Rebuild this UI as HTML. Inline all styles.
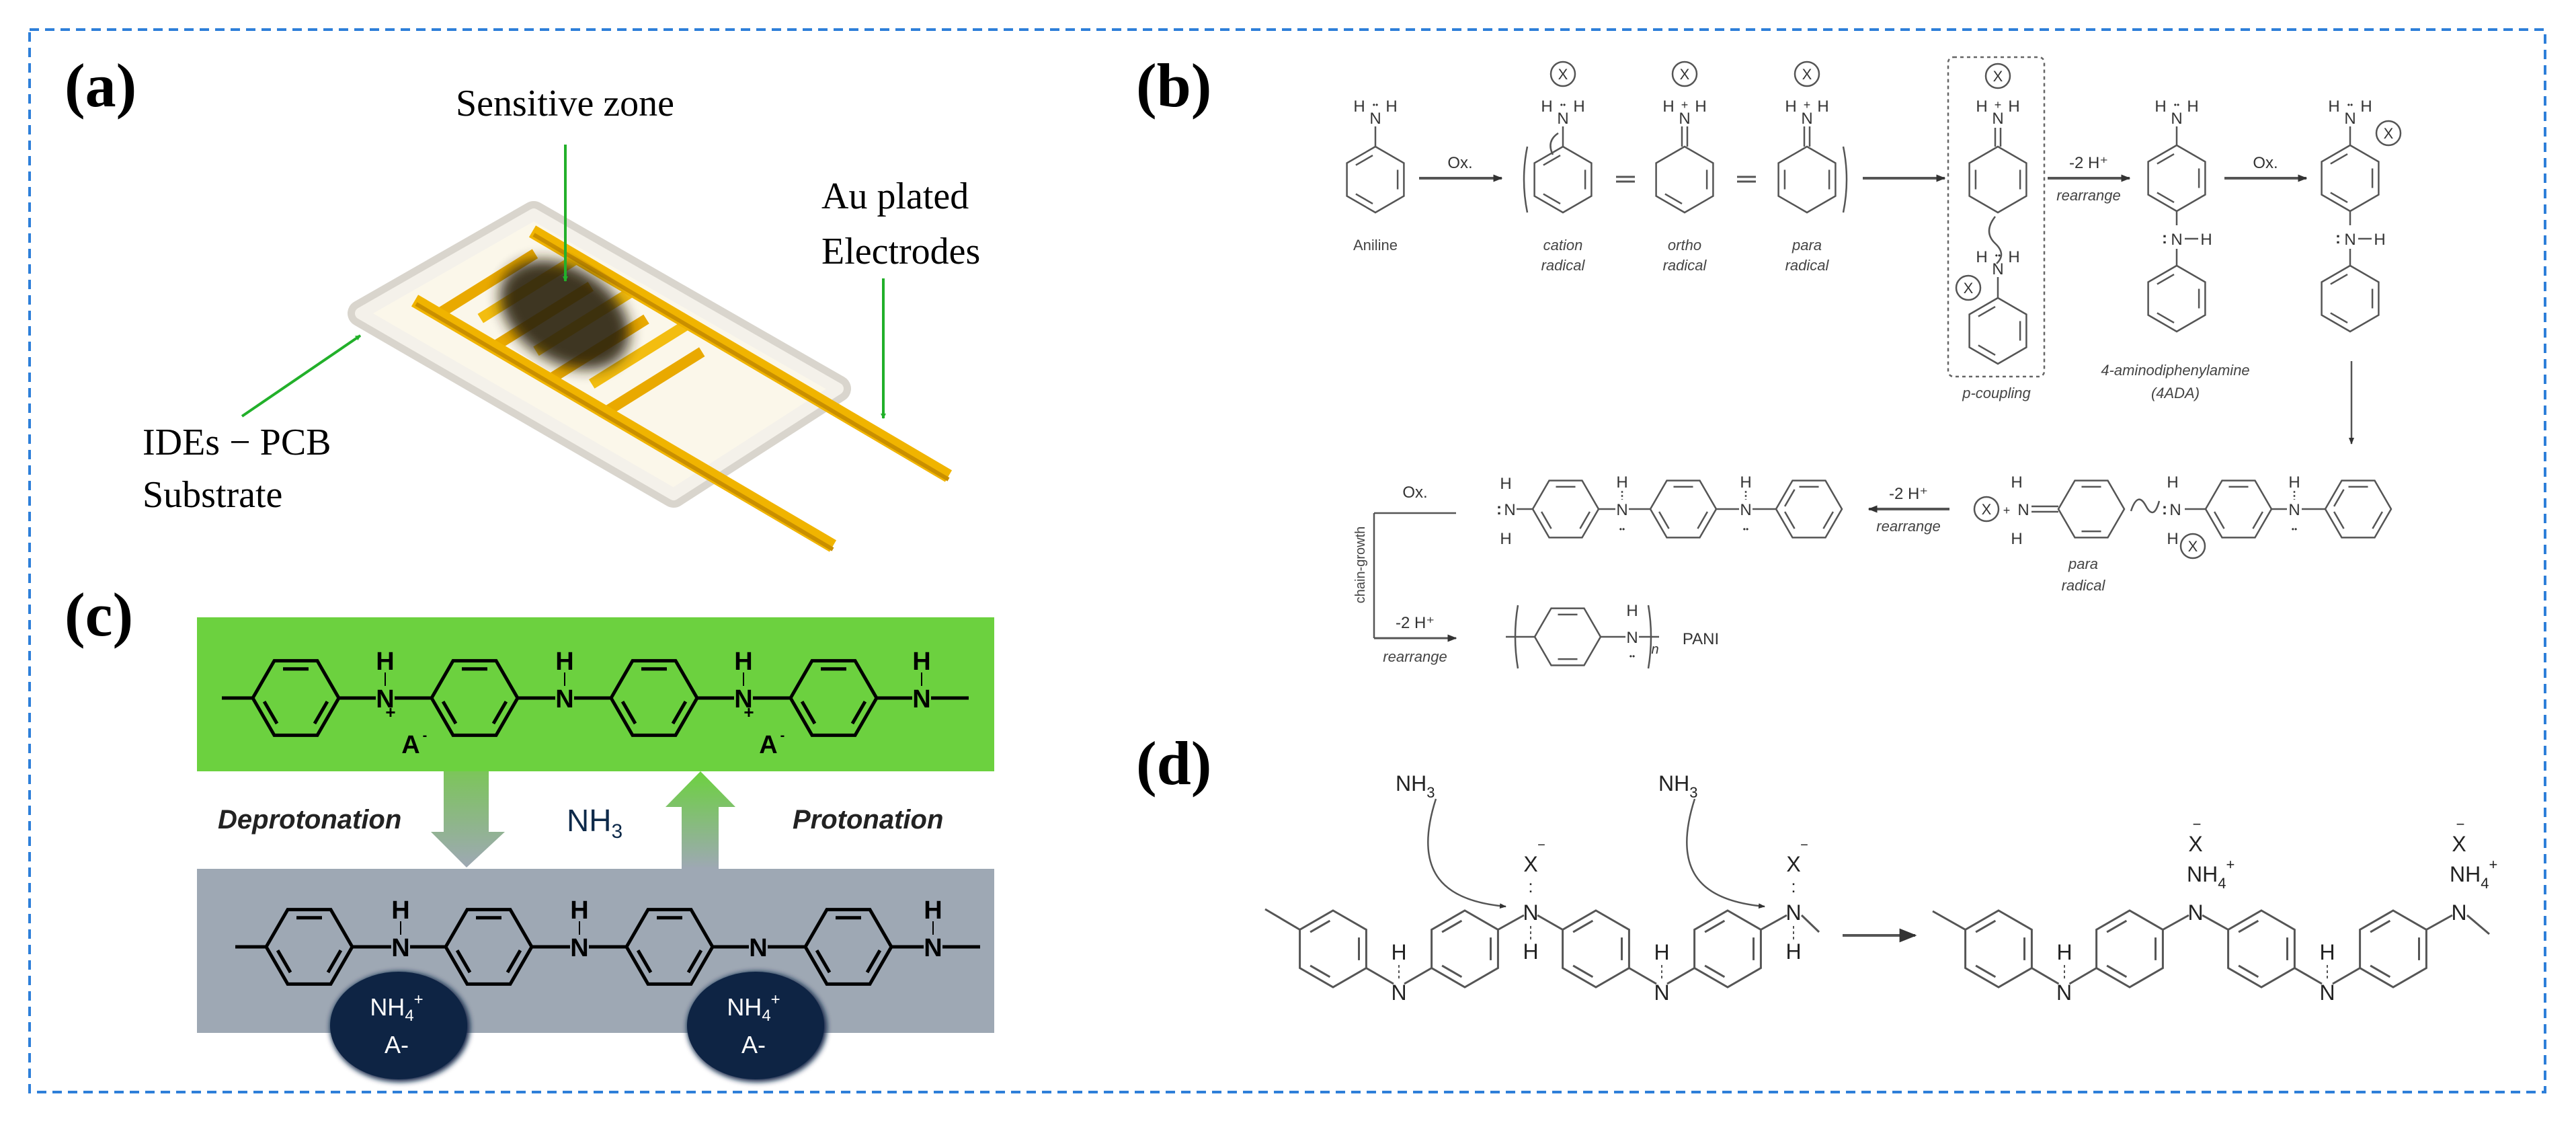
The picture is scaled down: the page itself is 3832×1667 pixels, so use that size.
<!DOCTYPE html>
<html><head><meta charset="utf-8">
<style>
html,body{margin:0;padding:0;background:#fff;}
svg{display:block;}
text{font-family:"Liberation Sans",sans-serif;}
.serif{font-family:"Liberation Serif",serif;}
</style></head>
<body>
<svg id="s" xmlns="http://www.w3.org/2000/svg" width="3832" height="1667" viewBox="0 0 3832 1667">
<defs>
<marker id="ag" markerWidth="8" markerHeight="8" refX="7" refY="4" orient="auto" markerUnits="userSpaceOnUse" viewBox="0 0 8 8"><path d="M0,0 L8,4 L0,8 z" fill="#22b02a"/></marker>
<marker id="ab" viewBox="0 0 10 10" refX="9" refY="5" markerWidth="14" markerHeight="14" orient="auto" markerUnits="userSpaceOnUse"><path d="M0,1 L10,5 L0,9 z" fill="#333"/></marker>
<marker id="ad" viewBox="0 0 10 10" refX="9" refY="5" markerWidth="26" markerHeight="26" orient="auto" markerUnits="userSpaceOnUse"><path d="M0,1 L10,5 L0,9 z" fill="#333"/></marker>
<marker id="ac" viewBox="0 0 10 10" refX="9" refY="5" markerWidth="10" markerHeight="10" orient="auto" markerUnits="userSpaceOnUse"><path d="M0,1 L10,5 L0,9 z" fill="#333"/></marker>
<linearGradient id="gd" x1="0" y1="0" x2="0" y2="1"><stop offset="0" stop-color="#7cc55a"/><stop offset="1" stop-color="#9ea8b4"/></linearGradient>
<linearGradient id="gu" x1="0" y1="1" x2="0" y2="0"><stop offset="0" stop-color="#9ea8b4"/><stop offset="1" stop-color="#6cd13f"/></linearGradient>
<filter id="bl"><feGaussianBlur stdDeviation="10"/></filter>
<filter id="sh"><feGaussianBlur stdDeviation="4"/></filter>
</defs>

<rect x="44" y="44" width="3742" height="1580" fill="none" stroke="#2e7fd9" stroke-width="4" stroke-dasharray="14,9"/>

<!-- ============ (a) ============ -->
<text x="96" y="158" class="serif" font-size="92" font-weight="bold">(a)</text>
<text x="678" y="172" class="serif" font-size="56">Sensitive zone</text>
<text x="1222" y="310" class="serif" font-size="56">Au plated</text>
<text x="1222" y="392" class="serif" font-size="56">Electrodes</text>
<text x="212" y="676" class="serif" font-size="56">IDEs − PCB</text>
<text x="212" y="754" class="serif" font-size="56">Substrate</text>

<g id="device">
 <path d="M794,319 L1246,578 L1002,735 L537,466 Z" fill="#e8e4dc" stroke="#d9d5cd" stroke-width="40" stroke-linejoin="round"/>
 <path d="M794,319 L1246,578 L1002,735 L537,466 Z" fill="#fbf7ea" stroke="#f4f1ea" stroke-width="18" stroke-linejoin="round"/>
</g>
<g id="gold" stroke="#f0b400" stroke-linecap="butt"></g>
<ellipse cx="840" cy="468" rx="105" ry="70" transform="rotate(32 840 468)" fill="#2b2310" opacity="0.9" filter="url(#bl)"/>

<g stroke="#22b02a" stroke-width="4" fill="none">
 <line x1="841" y1="215" x2="841" y2="418" marker-end="url(#ag)"/>
 <line x1="1314" y1="414" x2="1314" y2="622" marker-end="url(#ag)"/>
 <line x1="360" y1="619" x2="536" y2="499" marker-end="url(#ag)"/>
</g>

<!-- ============ (b) ============ -->
<text x="1690" y="158" class="serif" font-size="92" font-weight="bold">(b)</text>
<g id="gb" stroke="#555" stroke-width="2.5" fill="none"></g>
<g id="tb" fill="#333" font-size="24"></g>
<rect x="2898" y="85" width="143" height="475" rx="8" fill="none" stroke="#666" stroke-width="2.5" stroke-dasharray="5,5"/>
<g fill="#444" font-size="22" font-style="italic" text-anchor="middle">
 <text x="2046" y="372" font-style="normal">Aniline</text>
 <text x="2325" y="372">cation</text><text x="2325" y="402">radical</text>
 <text x="2506" y="372">ortho</text><text x="2506" y="402">radical</text>
 <text x="2688" y="372">para</text><text x="2688" y="402">radical</text>
 <text x="2970" y="592">p-coupling</text>
 <text x="3236" y="558">4-aminodiphenylamine</text><text x="3236" y="592">(4ADA)</text>
 <text x="3099" y="846">para</text><text x="3099" y="878">radical</text>
 <text x="3107" y="298">rearrange</text>
 <text x="2839" y="790">rearrange</text>
 <text x="2105" y="984">rearrange</text>
</g>
<g fill="#333" font-size="24" text-anchor="middle">
 <text x="2172" y="250">Ox.</text>
 <text x="3370" y="250">Ox.</text>
 <text x="3107" y="250">-2 H⁺</text>
 <text x="2839" y="742">-2 H⁺</text>
 <text x="2105" y="740">Ox.</text>
 <text x="2105" y="934">-2 H⁺</text>
 <text x="2530" y="958">PANI</text>
 <text x="2462" y="972" font-size="20" font-style="italic">n</text>
</g>
<text transform="translate(2030,840) rotate(-90)" font-size="20" fill="#444" text-anchor="middle">chain-growth</text>

<!-- ============ (c) ============ -->
<text x="96" y="945" class="serif" font-size="92" font-weight="bold">(c)</text>
<rect x="293" y="918" width="1186" height="229" fill="#6cd13f"/>
<rect x="293" y="1292" width="1186" height="244" fill="#9ea8b4"/>
<path d="M660,1147 L727,1147 L727,1237 L751,1237 L694,1290 L641,1237 L660,1237 Z" fill="url(#gd)"/>
<path d="M1014,1292 L1069,1292 L1069,1200 L1094,1200 L1042,1147 L990,1200 L1014,1200 Z" fill="url(#gu)"/>
<text x="324" y="1232" font-size="40" font-weight="bold" font-style="italic" fill="#222">Deprotonation</text>
<text x="1179" y="1232" font-size="40" font-weight="bold" font-style="italic" fill="#222">Protonation</text>
<text x="843" y="1236" font-size="46" fill="#0e2a4a">NH<tspan font-size="30" dy="10">3</tspan></text>
<g id="gc" stroke="#000" stroke-width="5" fill="none"></g>
<g id="tc" fill="#000" font-size="38" font-weight="bold" text-anchor="middle"></g>
<ellipse cx="595" cy="1527" rx="104" ry="82" fill="#0e2444" filter="url(#sh)"/>
<ellipse cx="593" cy="1525" rx="102" ry="80" fill="#0e2444"/>
<ellipse cx="1126" cy="1527" rx="104" ry="82" fill="#0e2444" filter="url(#sh)"/>
<ellipse cx="1124" cy="1525" rx="102" ry="80" fill="#0e2444"/>
<g fill="#fff" font-size="36" text-anchor="middle">
 <text x="590" y="1510">NH<tspan font-size="24" dy="8">4</tspan><tspan font-size="24" dy="-24">+</tspan></text>
 <text x="590" y="1566">A-</text>
 <text x="1121" y="1510">NH<tspan font-size="24" dy="8">4</tspan><tspan font-size="24" dy="-24">+</tspan></text>
 <text x="1121" y="1566">A-</text>
</g>

<!-- ============ (d) ============ -->
<text x="1690" y="1166" class="serif" font-size="92" font-weight="bold">(d)</text>
<g id="gd2" stroke="#555" stroke-width="3" fill="none"></g>
<g id="td" fill="#222" font-size="32" text-anchor="middle"></g>
<g fill="#222" font-size="32">
 <text x="2076" y="1176">NH<tspan font-size="22" dy="10">3</tspan></text>
 <text x="2467" y="1176">NH<tspan font-size="22" dy="10">3</tspan></text>
 <text x="3253" y="1311">NH<tspan font-size="22" dy="10">4</tspan><tspan font-size="22" dy="-28">+</tspan></text>
 <text x="3644" y="1311">NH<tspan font-size="22" dy="10">4</tspan><tspan font-size="22" dy="-28">+</tspan></text>
</g>
</svg>

<script>
var NS='http://www.w3.org/2000/svg';
function E(p,tag,a,txt){var e=document.createElementNS(NS,tag);for(var k in a)e.setAttribute(k,a[k]);if(txt!==undefined)e.textContent=txt;document.getElementById(p).appendChild(e);return e;}
function L(p,x1,y1,x2,y2,extra){var a={x1:x1,y1:y1,x2:x2,y2:y2};for(var k in extra)a[k]=extra[k];return E(p,'line',a);}
function T(p,x,y,s,extra){var a={x:x,y:y};for(var k in extra)a[k]=extra[k];return E(p,'text',a,s);}
function hex(p,cx,cy,r,pointy,dbl){
 var v=[];for(var i=0;i<6;i++){var an=(pointy?-90:0)+60*i;an=an*Math.PI/180;v.push([cx+r*Math.cos(an),cy+r*Math.sin(an)]);}
 E(p,'polygon',{points:v.map(function(q){return q[0].toFixed(1)+','+q[1].toFixed(1)}).join(' ')});
 (dbl||[]).forEach(function(i){var a=v[i],b=v[(i+1)%6];var f=0.78;
  var a2=[cx+(a[0]-cx)*f,cy+(a[1]-cy)*f],b2=[cx+(b[0]-cx)*f,cy+(b[1]-cy)*f];
  var t=0.12;var s=[a2[0]+(b2[0]-a2[0])*t,a2[1]+(b2[1]-a2[1])*t],e=[b2[0]+(a2[0]-b2[0])*t,b2[1]+(a2[1]-b2[1])*t];
  L(p,s[0],s[1],e[0],e[1]);});
 return v;
}
(function(){
 var g='gold';
 function bar(x1,y1,x2,y2,w,c){L(g,x1,y1,x2,y2,{'stroke-width':w,stroke:c||'#f0b400'});}
 var d=[0.862,0.507], n=[0.85,-0.53];
 for(var k=0;k<7;k++){
  var s=40+k*48;
  var x=617+d[0]*s,y=447+d[1]*s;
  if(k%2==0){bar(x,y,x+n[0]*170,y+n[1]*170,16,'#e9a900');}
  else{var x2=792+d[0]*(s-10),y2=344+d[1]*(s-10);bar(x2,y2,x2-n[0]*170,y2-n[1]*170,16,'#f3bd10');}
 }
 bar(617,447,1239,812,20,'#f0b400');
 bar(792,344,1411,708,20,'#f0b400');
 bar(619,452,1239,817,6,'#c98f00');
 bar(794,349,1411,713,6,'#c98f00');
})();
(function(){
 var g='gb',t='tb';
 function nh2(x,y,plus,dots){
  T(t,x,y,'N',{'text-anchor':'middle'});
  T(t,x-24,y-18,'H',{'text-anchor':'middle'});T(t,x+24,y-18,'H',{'text-anchor':'middle'});
  if(plus)T(t,x,y-22,'+',{'text-anchor':'middle','font-size':18});
  if(dots)T(t,x,y-24,'••',{'text-anchor':'middle','font-size':12});
 }
 function xc(x,y){E(g,'circle',{cx:x,cy:y,r:18});T(t,x,y+8,'X',{'text-anchor':'middle','font-size':22});}
 var R=49;
 hex(g,2046,267,R,true,[1,3,5]);L(g,2046,218,2046,188);nh2(2046,184,false,true);
 L(g,2111,265,2234,265,{'marker-end':'url(#ab)','stroke-width':4});
 E(g,'path',{d:'M2272,218 Q2262,267 2272,316'});E(g,'path',{d:'M2742,218 Q2752,267 2742,316'});
 hex(g,2325,267,R,true,[1,3,5]);L(g,2325,218,2325,188);nh2(2325,184,false,true);xc(2325,110);
 E(g,'path',{d:'M2310,230 Q2300,210 2318,198',stroke:'#555'});
 hex(g,2506,267,R,true,[1,3]);L(g,2502,218,2502,188);L(g,2510,218,2510,188);nh2(2506,184,true,false);xc(2506,110);
 hex(g,2688,267,R,true,[1,4]);L(g,2684,218,2684,188);L(g,2692,218,2692,188);nh2(2688,184,true,false);xc(2688,110);
 [2418,2598].forEach(function(x){L(g,x-14,263,x+14,263,{'stroke-width':3});L(g,x-14,270,x+14,270,{'stroke-width':3});});
 L(g,2771,265,2893,265,{'marker-end':'url(#ab)','stroke-width':4});
 hex(g,2972,267,R,true,[1,4]);L(g,2968,218,2968,190);L(g,2976,218,2976,190);nh2(2972,184,true,false);xc(2972,113);
 E(g,'path',{d:'M2968,322 Q2950,345 2968,362 Q2985,378 2970,392'});
 hex(g,2972,492,R,true,[1,3,5]);L(g,2972,443,2972,412);nh2(2972,408,false,true);xc(2928,428);
 L(g,3046,265,3168,265,{'marker-end':'url(#ab)','stroke-width':4});
 function ada(x){hex(g,x,265,R,true,[1,3,5]);L(g,x,216,x,188);nh2(x,184,false,true);
  L(g,x,314,x,335);T(t,x,364,'N',{'text-anchor':'middle'});T(t,x-18,362,':',{'text-anchor':'middle','font-weight':'bold'});
  L(g,x+12,355,x+32,355);T(t,x+44,364,'H',{'text-anchor':'middle'});L(g,x,370,x,396);hex(g,x,444,R,true,[1,3,5]);}
 ada(3238);ada(3496);xc(3553,198);
 L(g,3309,265,3431,265,{'marker-end':'url(#ab)','stroke-width':4});
 L(g,3498,537,3498,660,{'marker-end':'url(#ac)'});
 var Y=757;
 function nmid(x,ht){T(t,x,Y+9,'N',{'text-anchor':'middle'});if(ht){T(t,x,Y-32,'H',{'text-anchor':'middle'});L(g,x,Y-27,x,Y-14,{'stroke-dasharray':'3,3'});T(t,x,Y+34,'••',{'text-anchor':'middle','font-size':12});}}
 hex(g,2329,Y,R,false,[4,0,2]);hex(g,2504,Y,R,false,[4,0,2]);hex(g,2691,Y,R,false,[4,3,0,2]);
 L(g,2378,Y,2403,Y);L(g,2423,Y,2455,Y);L(g,2553,Y,2587,Y);L(g,2607,Y,2642,Y);L(g,2256,Y,2280,Y);
 nmid(2413,true);nmid(2597,true);
 T(t,2246,Y+9,'N',{'text-anchor':'middle'});T(t,2230,Y+8,':',{'text-anchor':'middle','font-weight':'bold'});
 T(t,2240,Y-30,'H',{'text-anchor':'middle'});T(t,2240,Y+52,'H',{'text-anchor':'middle'});
 L(g,2900,Y,2780,Y,{'marker-end':'url(#ab)','stroke-width':4});
 xc(2955,Y);T(t,2985,Y+8,'+',{'text-anchor':'middle','font-size':18});T(t,3010,Y+9,'N',{'text-anchor':'middle'});
 T(t,3000,Y-32,'H',{'text-anchor':'middle'});T(t,3000,Y+52,'H',{'text-anchor':'middle'});
 L(g,3022,Y-4,3062,Y-4);L(g,3022,Y+4,3062,Y+4);
 hex(g,3111,Y,R,false,[4,1]);
 E(g,'path',{d:'M3170,760 Q3180,730 3192,752 Q3204,775 3212,745'});
 T(t,3236,Y+9,'N',{'text-anchor':'middle'});T(t,3220,Y+8,':',{'text-anchor':'middle','font-weight':'bold'});
 T(t,3232,Y-32,'H',{'text-anchor':'middle'});T(t,3232,Y+52,'H',{'text-anchor':'middle'});xc(3262,812);
 L(g,3250,Y,3282,Y);hex(g,3330,Y,R,false,[4,0,2]);L(g,3379,Y,3402,Y);nmid(3413,true);L(g,3424,Y,3460,Y);
 hex(g,3508,Y,R,false,[4,3,0,2]);
 L(g,2044,763,2044,949);L(g,2044,763,2166,763);
 L(g,2044,949,2166,949,{'marker-end':'url(#ab)','stroke-width':3});
 E(g,'path',{d:'M2258,900 Q2250,947 2258,994'});E(g,'path',{d:'M2452,900 Q2460,947 2452,994'});
 hex(g,2332,947,R,false,[4,1]);L(g,2240,947,2283,947);L(g,2381,947,2418,947);L(g,2438,947,2468,947);
 T(t,2428,956,'N',{'text-anchor':'middle'});T(t,2428,916,'H',{'text-anchor':'middle'});T(t,2428,980,'••',{'text-anchor':'middle','font-size':12});
})();
(function(){
 var g='gc',t='tc',R=64;
 function chain(Y,xs,ns,hs){
  xs.forEach(function(x){hex(g,x,Y,R,false,[4,0,2]);});
  L(g,xs[0]-R-46,Y,xs[0]-R,Y);
  ns.forEach(function(nx,i){T(t,nx,Y+14,'N');if(hs[i]){T(t,nx,Y-42,'H');L(g,nx,Y-38,nx,Y-18,{'stroke-width':2});}});
  for(var i=0;i<ns.length;i++){var lx=xs[i]+R,rx=(i+1<xs.length)?xs[i+1]-R:ns[i]+70;L(g,lx,Y,ns[i]-14,Y);L(g,ns[i]+14,Y,rx,Y);}
 }
 chain(1038,[440,706,973,1240],[573,840,1106,1371],[1,1,1,1]);
 T(t,581,1068,'+',{'font-size':26});T(t,1114,1068,'+',{'font-size':26});
 T(t,611,1120,'A');T(t,632,1100,'-',{'font-size':20});
 T(t,1143,1120,'A');T(t,1164,1100,'-',{'font-size':20});
 chain(1408,[460,727,996,1262],[596,862,1128,1388],[1,1,0,1]);
})();
(function(){
 var g='gd2',t='td',R=57,Y=1411;
 function chain(xs,lowN,left){
  xs.forEach(function(x){hex(g,x,Y,R,true,[1,3,5]);});
  var dx=R*0.866,dy=R*0.5;
  L(g,xs[0]-dx,Y-dy,left[0],left[1]);
  lowN.forEach(function(i){var nx=(xs[i]+xs[i+1])/2;L(g,xs[i]+dx,Y+dy,nx-8,Y+52);L(g,nx+8,Y+52,xs[i+1]-dx,Y+dy);T(t,nx,Y+76,'N');});
 }
 chain([1983,2179,2374,2570],[0,2],[1882,1352]);
 var dx=57*0.866,dy=28.5;
 [[2179,2374],[2570,null]].forEach(function(p){var nx=p[0]+98;L(g,p[0]+dx,Y-dy,nx-10,Y-50);
  if(p[1])L(g,nx+10,Y-50,p[1]-dx,Y-dy);else L(g,nx+12,Y-50,nx+38,Y-25);
  T(t,nx,Y-43,'N');T(t,nx,Y+15,'H');L(g,nx,Y-34,nx,Y-12,{'stroke-dasharray':'4,4','stroke-width':2});
  T(t,nx,Y-84,':',{'font-size':26});T(t,nx,Y-115,'X');T(t,nx+16,Y-148,'−',{'font-size':20});});
 [2081,2472].forEach(function(nx){T(t,nx,Y+16,'H');L(g,nx,Y+24,nx,Y+46,{'stroke-dasharray':'4,4','stroke-width':2});});
 E(g,'path',{d:'M2136,1188 C2100,1300 2150,1340 2240,1348','marker-end':'url(#ac)','stroke-width':2.5});
 E(g,'path',{d:'M2521,1188 C2485,1300 2535,1340 2625,1348','marker-end':'url(#ac)','stroke-width':2.5});
 L(g,2741,1391,2849,1391,{'marker-end':'url(#ad)','stroke-width':4});
 chain([2973,3168,3364,3560],[0,2],[2875,1355]);
 [3071,3462].forEach(function(nx){T(t,nx,Y+16,'H');L(g,nx,Y+24,nx,Y+46,{'stroke-dasharray':'4,4','stroke-width':2});});
 [[3168,3364],[3560,null]].forEach(function(p){var nx=p[0]+98;L(g,p[0]+dx,Y-dy,nx-10,Y-50);
  if(p[1])L(g,nx+10,Y-50,p[1]-dx,Y-dy);else L(g,nx+12,Y-50,nx+45,Y-22);
  T(t,nx,Y-43,'N');
  T(t,nx,Y-145,'X');T(t,nx+2,Y-178,'−',{'font-size':22});});
})();
</script>
</body></html>
